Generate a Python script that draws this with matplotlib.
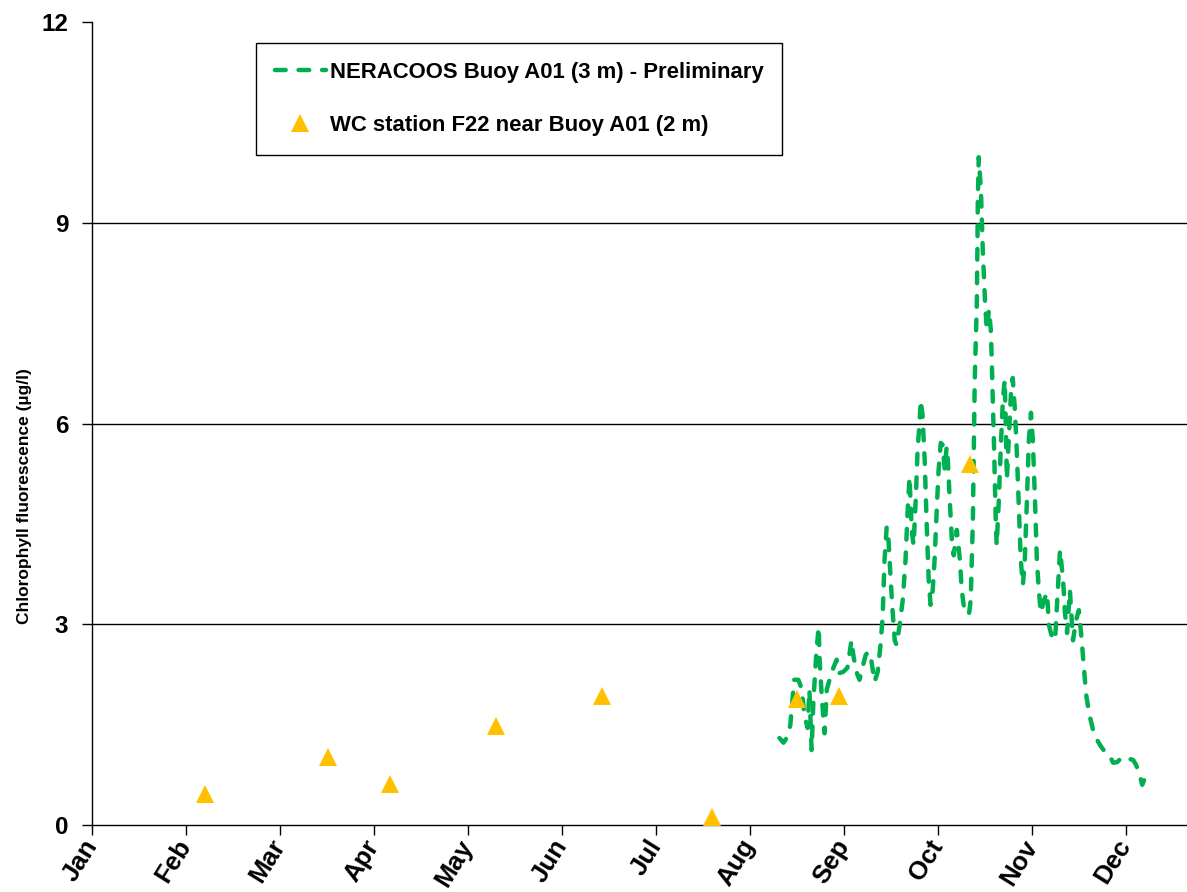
import matplotlib
matplotlib.use('Agg')
import matplotlib.pyplot as plt

months = ['Jan', 'Feb', 'Mar', 'Apr', 'May', 'Jun', 'Jul', 'Aug', 'Sep', 'Oct', 'Nov', 'Dec']

# Buoy A01 (3 m) chlorophyll fluorescence, day of year vs µg/l
buoy_day = [222.5, 223.8, 225.1, 226.0, 226.7, 227.3, 228.6, 229.6, 230.6, 231.6,
            232.2, 232.9, 233.5, 234.5, 235.2, 235.5, 236.2, 237.1, 237.8, 238.7,
            239.7, 241.0, 241.9, 243.2, 244.5, 245.8, 246.5, 247.4, 248.4, 249.4,
            250.4, 251.3, 252.3, 253.3, 254.3, 255.2, 255.9, 256.5, 257.2, 257.8,
            258.5, 259.1, 259.8, 260.4, 261.4, 262.4, 263.3, 264.0, 264.6, 265.3,
            265.9, 266.6, 267.2, 267.9, 268.2, 268.8, 269.5, 270.1, 270.8, 271.4,
            272.1, 272.7, 273.4, 274.0, 274.7, 275.3, 276.0, 276.6, 277.0, 277.6,
            278.3, 278.9, 279.9, 280.9, 281.5, 282.1, 283.1, 283.8, 284.4, 285.1,
            285.4, 285.7, 286.4, 286.7, 287.0, 287.7, 288.3, 289.0, 289.6, 290.3,
            290.9, 291.2, 291.9, 292.5, 292.8, 293.5, 294.1, 294.8, 295.4, 295.8,
            296.1, 296.7, 297.4, 298.0, 298.7, 299.3, 300.0, 300.6, 301.3, 301.9,
            302.6, 303.2, 303.9, 304.5, 305.2, 305.8, 306.5, 307.1, 308.1, 309.1,
            309.7, 310.7, 311.7, 312.6, 313.3, 314.3, 314.9, 315.6, 316.5, 317.5,
            318.5, 319.4, 320.1, 321.1, 321.7, 322.7, 324.0, 325.3, 326.6, 327.9,
            329.2, 330.5, 331.8, 333.1, 334.4, 335.7, 337.0, 337.9, 338.9, 339.9,
            340.8]
buoy_chl = [1.30, 1.23, 1.32, 1.49, 1.87, 2.17, 2.17, 2.05, 1.64, 1.45,
            2.02, 1.12, 1.87, 2.62, 2.96, 2.47, 1.91, 1.37, 2.02, 2.17,
            2.32, 2.47, 2.27, 2.29, 2.35, 2.76, 2.51, 2.29, 2.17, 2.36,
            2.54, 2.59, 2.44, 2.14, 2.29, 2.69, 3.11, 3.96, 4.45, 4.26,
            3.66, 3.21, 2.76, 2.69, 2.99, 3.36, 3.96, 4.71, 5.20, 4.41,
            4.18, 4.86, 5.60, 6.05, 6.35, 6.13, 5.45, 4.56, 3.66, 3.29,
            3.51, 3.96, 4.71, 5.30, 5.71, 5.68, 5.30, 5.65, 5.45, 4.86,
            4.26, 4.03, 4.41, 3.96, 3.51, 3.29, 3.18, 3.14, 3.36, 4.56,
            5.60, 6.65, 7.85, 9.34, 9.98, 9.49, 8.59, 7.85, 7.40, 7.70,
            7.40, 6.95, 5.75, 4.56, 4.18, 4.86, 5.60, 6.35, 6.65, 5.90,
            5.16, 5.75, 6.43, 6.68, 6.20, 5.60, 4.71, 3.96, 3.59, 3.96,
            4.86, 5.75, 6.16, 5.75, 4.86, 3.96, 3.47, 3.17, 3.36, 3.47,
            2.99, 2.81, 2.76, 3.51, 4.11, 3.66, 3.17, 2.87, 3.51, 2.76,
            3.06, 3.21, 2.87, 2.32, 1.97, 1.67, 1.42, 1.27, 1.17, 1.09,
            1.05, 0.93, 0.94, 1.00, 0.97, 0.99, 0.97, 0.90, 0.78, 0.60,
            0.70]

# WC station F22 (2 m)
station_day = [36.6, 76.5, 96.6, 130.7, 165.1, 200.7, 228.3, 241.9, 284.1]
station_chl = [0.46, 1.02, 0.61, 1.48, 1.93, 0.12, 1.88, 1.93, 5.40]

buoy_label = 'NERACOOS Buoy A01 (3 m) - Preliminary'
station_label = 'WC station F22 near Buoy A01 (2 m)'
y_label = 'Chlorophyll fluorescence (µg/l)'

plt.rcParams['font.family'] = ['Liberation Sans', 'DejaVu Sans']
plt.rcParams['font.weight'] = 'bold'

W, H = 1187, 892
fig = plt.figure(figsize=(W / 100, H / 100), dpi=100)
ax = fig.add_axes([92 / W, (H - 825) / H, (W - 92) / W, (825 - 22) / H])

for v in [3, 6, 9]:
    ax.axhline(v, color='black', lw=1.0, zorder=0)

ax.plot(buoy_day, buoy_chl, color='#00B050', lw=3.2, linestyle=(0, (2.4, 2.9)),
        dash_capstyle='round', solid_capstyle='round', label=buoy_label, zorder=2)
ax.plot(station_day, station_chl, linestyle='none', marker='^', color='#FFC000',
        markersize=13, markeredgewidth=0, label=station_label, zorder=3)

ax.set_xlim(0, 354.4)
ax.set_ylim(0, 12)
ax.set_yticks([0, 3, 6, 9, 12])
ax.set_xticks([i * 365 / 12 for i in range(12)])
ax.set_xticklabels(months, rotation=58, ha='right', va='center', rotation_mode='anchor',
                   fontsize=18.5, fontweight='bold')
for lbl in ax.get_yticklabels():
    lbl.set_fontweight('bold')

ax.spines['top'].set_visible(False)
ax.spines['right'].set_visible(False)
ax.spines['left'].set_linewidth(1.0)
ax.spines['bottom'].set_linewidth(1.0)
ax.tick_params(axis='both', direction='out', length=7, width=1, colors='black')
ax.tick_params(axis='y', labelsize=17.5, pad=10)
ax.tick_params(axis='x', pad=5)

ax.set_ylabel(y_label, fontsize=12.5, fontweight='bold')
ax.yaxis.set_label_coords(-0.0548, (825 - 496) / (825 - 22))

leg = ax.legend(loc='upper left', bbox_to_anchor=(256 / W, 1 - 43 / H),
                bbox_transform=fig.transFigure, borderaxespad=0, frameon=True,
                fancybox=False, edgecolor='black', framealpha=1,
                prop={'weight': 'bold', 'size': 15.9}, handlelength=2.31,
                handletextpad=0.18, labelspacing=1.45, borderpad=0.85)
leg.get_frame().set_linewidth(1.0)

fig.savefig('out.png', dpi=100)
